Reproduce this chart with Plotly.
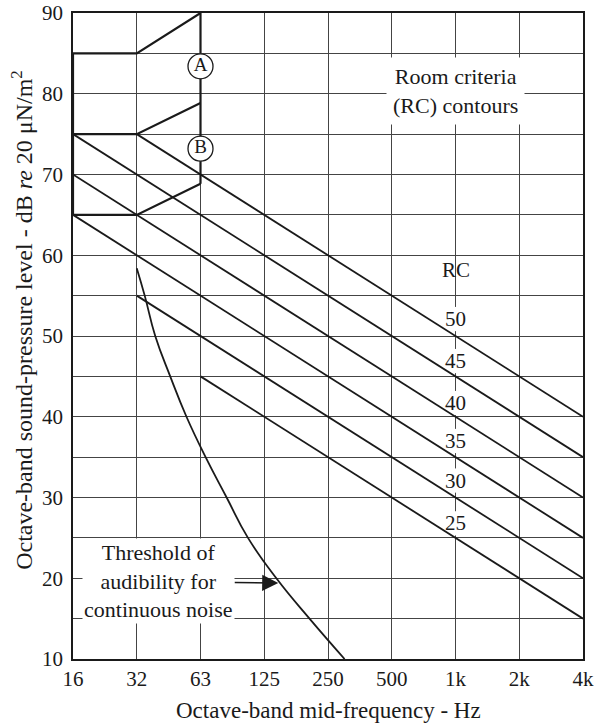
import plotly.graph_objects as go

# ---- data ----
bands = ["16", "32", "63", "125", "250", "500", "1k", "2k", "4k"]
band_pos = [0, 1, 2, 3, 4, 5, 6, 7, 8]
y_ticks = [10, 20, 30, 40, 50, 60, 70, 80, 90]

rc_names = ["50", "45", "40", "35", "30", "25"]
rc50 = [None, 75, 70, 65, 60, 55, 50, 45, 40]
rc45 = [75, 70, 65, 60, 55, 50, 45, 40, 35]
rc40 = [70, 65, 60, 55, 50, 45, 40, 35, 30]
rc35 = [65, 60, 55, 50, 45, 40, 35, 30, 25]
rc30 = [None, 55, 50, 45, 40, 35, 30, 25, 20]
rc25 = [None, None, 45, 40, 35, 30, 25, 20, 15]
rc_curves = [rc50, rc45, rc40, rc35, rc30, rc25]
rc_label_x = 6
rc_label_y = [52.1, 46.9, 41.7, 37.0, 32.1, 26.8]

# regions A / B outline
left_edge_x = [0, 0]
left_edge_y = [65, 85]
shelf_x = [0, 1, 2]
shelf85_y = [85, 85, 90]
shelf75_y = [75, 75, 78.85]
shelf65_y = [65, 65, 68.85]
right_edge_x = [2, 2]
right_edge_y = [68.85, 90]

region_labels = ["A", "B"]
region_label_x = [2, 2]
region_label_y = [83.4, 73.2]

# threshold of audibility (band position, dB)
thr_x = [1.0, 1.125, 1.29, 1.525, 1.78, 2.08, 2.41, 2.745, 3.19, 3.71, 4.26]
thr_y = [58.4, 55, 50, 45, 40, 35, 30, 25, 20, 15, 10]

FONT = "Liberation Serif, DejaVu Serif, serif"
INK = "#1a1a1a"
GRID = "#444444"

fig = go.Figure()

for ys in rc_curves:
    fig.add_trace(go.Scatter(x=band_pos, y=ys, mode="lines",
                             line=dict(color=INK, width=1.8),
                             hoverinfo="skip", showlegend=False))

for xs, ys in [(left_edge_x, left_edge_y), (shelf_x, shelf85_y), (shelf_x, shelf75_y),
               (shelf_x, shelf65_y), (right_edge_x, right_edge_y)]:
    fig.add_trace(go.Scatter(x=xs, y=ys, mode="lines",
                             line=dict(color=INK, width=2.2),
                             hoverinfo="skip", showlegend=False))

fig.add_trace(go.Scatter(x=thr_x, y=thr_y, mode="lines",
                         line=dict(color=INK, width=1.8, shape="spline", smoothing=1.3),
                         hoverinfo="skip", showlegend=False))

fig.add_trace(go.Scatter(x=region_label_x, y=region_label_y, mode="markers+text",
                         text=region_labels, textposition="middle center",
                         textfont=dict(family=FONT, size=19, color=INK),
                         marker=dict(size=25, color="white", line=dict(color=INK, width=1.3)),
                         hoverinfo="skip", showlegend=False))

# RC number labels with white patches between grid and traces
for name, y in zip(rc_names, rc_label_y):
    fig.add_shape(type="rect", layer="between", x0=rc_label_x - 0.24, x1=rc_label_x + 0.24,
                  y0=y - 1.5, y1=y + 1.5, fillcolor="white", line=dict(width=0))
    fig.add_annotation(x=rc_label_x, y=y, text=name, showarrow=False,
                       font=dict(family=FONT, size=21, color=INK))

fig.add_annotation(x=rc_label_x, y=58.2, text="RC", showarrow=False,
                   font=dict(family=FONT, size=21, color=INK))

fig.add_annotation(x=rc_label_x, y=80.3, text="Room criteria<br>(RC) contours",
                   showarrow=False, bgcolor="white", borderpad=6,
                   font=dict(family=FONT, size=22, color=INK))

fig.add_annotation(x=3.22, y=19.4, ax=1.345, ay=19.6, axref="x", ayref="y",
                   text="Threshold of<br>audibility for<br>continuous noise",
                   showarrow=True, arrowhead=2, arrowsize=2.3, arrowwidth=1.4,
                   arrowcolor=INK, bgcolor="white", borderpad=1,
                   font=dict(family=FONT, size=22, color=INK))

# axis titles
fig.add_annotation(xref="paper", yref="paper", x=0.5, y=-0.079, yanchor="middle",
                   text="Octave-band mid-frequency - Hz", showarrow=False,
                   font=dict(family=FONT, size=23, color=INK))
fig.add_annotation(xref="paper", yref="paper", x=-0.1, y=0.525, xanchor="center",
                   yanchor="middle", textangle=-90,
                   text="Octave-band sound-pressure level - dB <i>re</i> 20 μN/m<sup>2</sup>",
                   showarrow=False, font=dict(family=FONT, size=24, color=INK))

fig.update_layout(
    width=596, height=723,
    margin=dict(l=73, r=13, t=13, b=64, autoexpand=False),
    paper_bgcolor="white", plot_bgcolor="white",
    font=dict(family=FONT, size=21, color=INK),
    showlegend=False,
)
fig.update_xaxes(range=[0, 8], tickvals=band_pos, ticktext=bands, automargin=False,
                 showgrid=True, gridcolor=GRID, gridwidth=1.2, zeroline=False,
                 showline=True, linecolor=INK, linewidth=1.8, mirror=True, ticks="",
                 ticklabeloverflow="allow",
                 tickfont=dict(family=FONT, size=21, color=INK))
fig.update_yaxes(range=[10, 90], tickvals=y_ticks, automargin=False,
                 showgrid=True, gridcolor=GRID, gridwidth=1.2, zeroline=False,
                 minor=dict(dtick=5, showgrid=True, gridcolor=GRID, gridwidth=1.2),
                 showline=True, linecolor=INK, linewidth=1.8, mirror=True, ticks="",
                 ticklabelstandoff=4, ticklabeloverflow="allow",
                 tickfont=dict(family=FONT, size=21, color=INK))

fig.write_html("out.html", config={"displayModeBar": False},
               post_script="document.body.style.margin='0';document.body.style.overflow='hidden';")
